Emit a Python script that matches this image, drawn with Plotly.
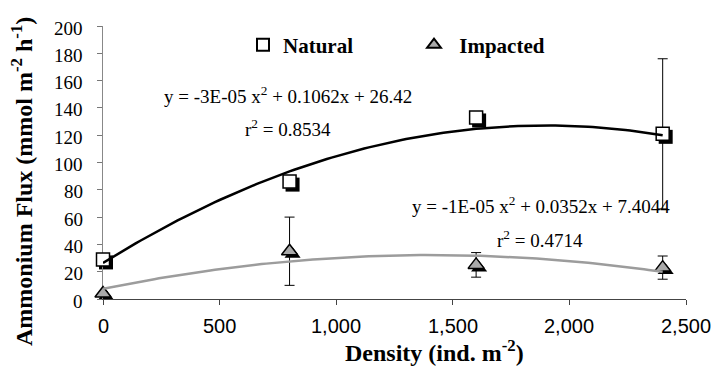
import numpy as np
import plotly.graph_objects as go

# ---------------- data ----------------
density = [0, 800, 1600, 2400]
natural_flux = [29, 86, 133, 121]
natural_err = [1.5, 1.5, 1.5, 55]
impacted_flux = [4, 35, 25, 23]
impacted_err = [1.5, 25, 9, 8.5]
# quadratic trendline coefficients (highest power first)
natural_fit = [-2.8e-05, 0.1062, 26.42]
impacted_fit = [-1.25e-05, 0.0352, 7.4044]
natural_eq = "y = -3E-05 x<sup>2</sup> + 0.1062x + 26.42"
natural_r2 = "r<sup>2</sup> = 0.8534"
impacted_eq = "y = -1E-05 x<sup>2</sup> + 0.0352x + 7.4044"
impacted_r2 = "r<sup>2</sup> = 0.4714"
x_ticks = [0, 500, 1000, 1500, 2000, 2500]
x_tick_labels = ["0", "500", "1,000", "1,500", "2,000", "2,500"]
y_ticks = list(range(0, 201, 20))
y_tick_labels = [str(v) for v in y_ticks]

# ---------------- geometry ----------------
FW, FH = 718, 374
ML, MT = 103, 26
PW, PH = 586, 276          # full plotting area incl. shadow offset
SH = 3                     # marker shadow offset in px
MR = FW - ML - PW
MB = FH - MT - PH


def px_x(px):
    return (px - ML) / PW


def px_y(py):
    return (MT + PH - py) / PH


SERIF = "Liberation Serif, Times New Roman, serif"
SANS = "Liberation Sans, Arial, sans-serif"

fit_x = np.linspace(0, 2400, 121)

fig = go.Figure()

# shadows (drawn on lower subplot layer, offset by SH px)
fig.add_trace(go.Scatter(x=density, y=natural_flux, mode="markers", xaxis="x", yaxis="y",
                         marker=dict(symbol="square", size=14, color="black"),
                         showlegend=False, hoverinfo="skip", cliponaxis=False))
fig.add_trace(go.Scatter(x=density, y=impacted_flux, mode="markers", xaxis="x", yaxis="y",
                         marker=dict(symbol="triangle-up", size=14, color="black"),
                         showlegend=False, hoverinfo="skip", cliponaxis=False))

# main markers
fig.add_trace(go.Scatter(x=density, y=natural_flux, mode="markers", name="Natural",
                         xaxis="x2", yaxis="y2",
                         marker=dict(symbol="square", size=13, color="white",
                                     line=dict(color="black", width=1.5)),
                         error_y=dict(type="data", array=natural_err, color="black",
                                      thickness=1, width=5),
                         cliponaxis=False))
fig.add_trace(go.Scatter(x=density, y=impacted_flux, mode="markers", name="\u00a0Impacted",
                         xaxis="x2", yaxis="y2",
                         marker=dict(symbol="triangle-up", size=14, color="#a9a9a9",
                                     line=dict(color="black", width=1.5)),
                         error_y=dict(type="data", array=impacted_err, color="black",
                                      thickness=1, width=5),
                         cliponaxis=False))

# trendlines
fig.add_trace(go.Scatter(x=fit_x, y=np.polyval(natural_fit, fit_x), mode="lines",
                         xaxis="x2", yaxis="y2", line=dict(color="black", width=2.5),
                         showlegend=False, hoverinfo="skip", cliponaxis=False))
fig.add_trace(go.Scatter(x=fit_x, y=np.polyval(impacted_fit, fit_x), mode="lines",
                         xaxis="x2", yaxis="y2", line=dict(color="#9c9c9c", width=2.5),
                         showlegend=False, hoverinfo="skip", cliponaxis=False))

hidden = dict(visible=False, fixedrange=True, automargin=False)
fig.update_layout(
    width=FW, height=FH,
    margin=dict(l=ML, r=MR, t=MT, b=MB, pad=0, autoexpand=False),
    paper_bgcolor="white", plot_bgcolor="rgba(0,0,0,0)",
    font=dict(family=SERIF, color="black"),
    xaxis=dict(domain=[SH / PW, 1], range=[0, 2500], **hidden),
    yaxis=dict(domain=[0, 1 - SH / PH], range=[0, 200], **hidden),
    xaxis2=dict(domain=[0, 1 - SH / PW], range=[0, 2500], anchor="y2",
                tickvals=x_ticks, showticklabels=False, automargin=False,
                ticks="outside", ticklen=5, tickcolor="#444", tickwidth=1,
                showline=True, linecolor="#444", linewidth=1,
                showgrid=False, zeroline=False, layer="below traces"),
    yaxis2=dict(domain=[SH / PH, 1], range=[0, 200], anchor="x2",
                tickvals=y_ticks, showticklabels=False, automargin=False,
                ticks="outside", ticklen=5, tickcolor="#777", tickwidth=1,
                showline=True, linecolor="#888", linewidth=1,
                showgrid=False, zeroline=False, layer="below traces"),
    showlegend=True,
    legend=dict(orientation="h", x=px_x(243), y=px_y(45), xanchor="left", yanchor="middle",
                font=dict(family=SERIF, size=21, color="black", weight="bold"),
                itemsizing="constant", entrywidth=126, entrywidthmode="pixels",
                bgcolor="rgba(0,0,0,0)", borderwidth=0),
)

# tick labels placed through the axes' own scales
for v, t in zip(x_ticks, x_tick_labels):
    fig.add_annotation(text=t, xref="x2", yref="paper", x=v, y=px_y(326),
                       showarrow=False, xanchor="center", yanchor="middle",
                       font=dict(family=SANS, size=20, color="black"))
for v, t in zip(y_ticks, y_tick_labels):
    fig.add_annotation(text=t, xref="paper", yref="y2", x=px_x(85), y=v,
                       showarrow=False, xanchor="right", yanchor="middle", yshift=-2,
                       font=dict(family=SERIF, size=19, color="black"))

ann = []
ann.append(dict(text=natural_eq, x=px_x(288), y=px_y(95)))
ann.append(dict(text=natural_r2, x=px_x(288), y=px_y(128)))
ann.append(dict(text=impacted_eq, x=px_x(541), y=px_y(205)))
ann.append(dict(text=impacted_r2, x=px_x(540), y=px_y(239)))
for a in ann:
    fig.add_annotation(xref="paper", yref="paper", showarrow=False,
                       xanchor="center", yanchor="middle",
                       font=dict(family=SERIF, size=19, color="black"), **a)

fig.add_annotation(text="Density (ind. m<sup>-2</sup>)", xref="paper", yref="paper",
                   x=px_x(434), y=px_y(351), showarrow=False,
                   xanchor="center", yanchor="middle",
                   font=dict(family=SERIF, size=24, color="black", weight="bold"))
fig.add_annotation(text="Ammonium Flux (mmol m<sup>-2</sup> h<sup>-1</sup>)", xref="paper", yref="paper",
                   x=px_x(22), y=px_y(182), showarrow=False, textangle=-90,
                   xanchor="center", yanchor="middle",
                   font=dict(family=SERIF, size=24, color="black", weight="bold"))

fig.write_html("out.html", config={"displayModeBar": False},
               post_script="document.body.style.margin='0';document.body.style.overflow='hidden';")
